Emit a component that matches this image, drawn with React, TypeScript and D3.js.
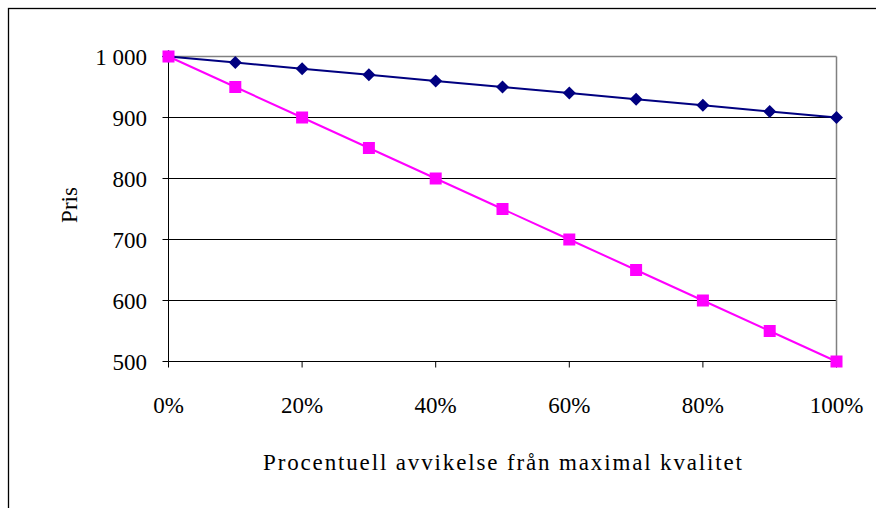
import React from "react";
import * as d3 from "d3";

const xValues = [0, 0.1, 0.2, 0.3, 0.4, 0.5, 0.6, 0.7, 0.8, 0.9, 1.0];
const seriesNavy = [1000, 990, 980, 970, 960, 950, 940, 930, 920, 910, 900];
const seriesMagenta = [1000, 950, 900, 850, 800, 750, 700, 650, 600, 550, 500];
const yTicks = [500, 600, 700, 800, 900, 1000];
const xTicks = [0, 0.2, 0.4, 0.6, 0.8, 1.0];
const xTitle = "Procentuell avvikelse från maximal kvalitet";
const yTitle = "Pris";

const W = 876;
const H = 508;
const L = 168.5, R = 836.5, T = 56.5, B = 361.5;
const FONT = "'Liberation Serif', 'Times New Roman', serif";

export default function App() {
  const x = d3.scaleLinear().domain([0, 1]).range([L, R]);
  const y = d3.scaleLinear().domain([500, 1000]).range([B, T]);
  const line = d3.line<number>().x((_, i) => x(xValues[i])).y((d) => y(d));
  const fmtY = (v: number) => (v >= 1000 ? d3.format(",")(v).replace(",", " ") : String(v));
  const fmtX = d3.format(".0%");
  const diamond = (cx: number, cy: number, r: number) =>
    `M${cx},${cy - r}L${cx + r},${cy}L${cx},${cy + r}L${cx - r},${cy}Z`;

  return (
    <svg
      width={W}
      height={H}
      style={{ position: "absolute", left: 0, top: 0, display: "block", background: "#fff" }}
    >
      <rect x={8.5} y={8.5} width={1000} height={1000} fill="#fff" stroke="#000" strokeWidth={1.3} />
      {/* gridlines */}
      {yTicks.filter((t) => t !== 500 && t !== 1000).map((t) => (
        <line key={t} x1={L} x2={R} y1={y(t)} y2={y(t)} stroke="#000" strokeWidth={1} />
      ))}
      {/* plot border gray */}
      <line x1={L} x2={R} y1={T} y2={T} stroke="#808080" strokeWidth={1.5} />
      <line x1={R} x2={R} y1={T} y2={B} stroke="#808080" strokeWidth={1.5} />
      {/* axes */}
      <line x1={L} x2={L} y1={T} y2={B} stroke="#000" strokeWidth={1} />
      <line x1={L} x2={R} y1={B} y2={B} stroke="#000" strokeWidth={1} />
      {yTicks.map((t) => (
        <g key={t}>
          <line x1={L - 6} x2={L} y1={y(t)} y2={y(t)} stroke="#000" />
          <text
            x={147}
            y={y(t) + 8}
            textAnchor="end"
            fontFamily={FONT}
            fontSize={23}
            fill="#000"
          >
            {fmtY(t)}
          </text>
        </g>
      ))}
      {xTicks.map((t) => (
        <g key={t}>
          <line x1={x(t)} x2={x(t)} y1={B} y2={B + 6} stroke="#000" />
          <text x={x(t)} y={413} textAnchor="middle" fontFamily={FONT} fontSize={23} fill="#000">
            {fmtX(t)}
          </text>
        </g>
      ))}
      {/* series */}
      <path d={line(seriesMagenta) || ""} fill="none" stroke="#FF00FF" strokeWidth={2} />
      <path d={line(seriesNavy) || ""} fill="none" stroke="#000080" strokeWidth={2} />
      {seriesNavy.map((v, i) => (
        <path key={"n" + i} d={diamond(x(xValues[i]), y(v), 6.5)} fill="#000080" />
      ))}
      {seriesMagenta.map((v, i) => (
        <rect
          key={"m" + i}
          x={x(xValues[i]) - 6}
          y={y(v) - 6}
          width={12}
          height={12}
          fill="#FF00FF"
        />
      ))}
      {/* titles */}
      <text
        x={502.5}
        y={470}
        textAnchor="middle"
        fontFamily={FONT}
        fontSize={23}
        textLength={479}
        lengthAdjust="spacing"
        fill="#000"
      >
        {xTitle}
      </text>
      <text
        transform={`translate(77,205) rotate(-90)`}
        textAnchor="middle"
        fontFamily={FONT}
        fontSize={23}
        fill="#000"
      >
        {yTitle}
      </text>
    </svg>
  );
}
